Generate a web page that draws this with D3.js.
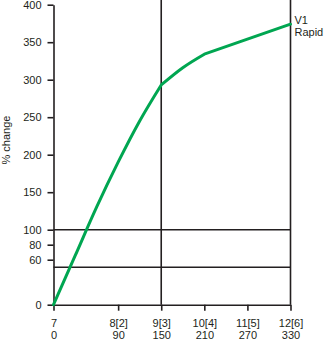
<!DOCTYPE html>
<html lang="en">
<head>
<meta charset="UTF-8">
<title>% change</title>
<style>
    body { margin: 0; background: #fff; }
    svg { display: block; font-family: "Liberation Sans", Arial, sans-serif; }
    .axis path, .axis line { stroke: #231f20; stroke-width: 1.6px; }
    .axis text { font-size: 11px; fill: #231f20; }
    .ref { stroke: #231f20; stroke-width: 1.6px; }
    .line { fill: none; stroke: #00a651; stroke-width: 3px; stroke-linecap: round; stroke-linejoin: round; }
</style>
</head>
<body>
<script src="https://d3js.org/d3.v7.min.js"></script>
<script>
    // data
    var times = [0, 30, 60, 90, 120, 150, 180, 210, 270, 330];
    var change = [0, 65, 130, 190, 245, 293, 316, 334, 354, 374];

    var xTicks = [0, 90, 150, 210, 270, 330];
    var xTickTop = ["7", "8[2]", "9[3]", "10[4]", "11[5]", "12[6]"];
    var yTicks = [0, 60, 80, 100, 150, 200, 250, 300, 350, 400];
    var hLines = [50, 100];
    var vLines = [150, 330];

    var width = 326, height = 340;

    var x = d3.scaleLinear().domain([0, 330]).range([53.5, 290.5]);
    var y = d3.scaleLinear().domain([0, 400]).range([304.7, 4.7]);

    var svg = d3.select("body").append("svg")
        .attr("width", width)
        .attr("height", height);

    // horizontal reference lines
    svg.selectAll(".hline")
        .data(hLines)
        .enter().append("line")
        .attr("class", "ref")
        .attr("x1", x(0))
        .attr("x2", x(330))
        .attr("y1", function (d) { return y(d); })
        .attr("y2", function (d) { return y(d); });

    // vertical reference lines
    svg.selectAll(".vline")
        .data(vLines)
        .enter().append("line")
        .attr("class", "ref")
        .attr("x1", function (d) { return x(d); })
        .attr("x2", function (d) { return x(d); })
        .attr("y1", 0)
        .attr("y2", y(0));

    // Y axis
    svg.append("g")
        .attr("class", "axis")
        .attr("transform", "translate(" + x(0) + ",0)")
        .call(d3.axisLeft(y)
            .tickValues(yTicks)
            .tickSize(6)
            .tickPadding(6)
            .tickSizeOuter(0));

    // X axis
    var gx = svg.append("g")
        .attr("class", "axis")
        .attr("transform", "translate(0," + y(0) + ")")
        .call(d3.axisBottom(x)
            .tickValues(xTicks)
            .tickSize(6)
            .tickSizeOuter(0)
            .tickFormat(""));

    gx.selectAll(".tick").each(function (d, i) {
        var t = d3.select(this).append("text")
            .attr("fill", "#231f20")
            .attr("text-anchor", "middle");
        t.append("tspan").attr("x", 0).attr("y", 22).text(xTickTop[i]);
        t.append("tspan").attr("x", 0).attr("y", 34).text(d);
    });

    // y label
    svg.append("text")
        .attr("transform", "translate(10,140) rotate(-90)")
        .attr("text-anchor", "middle")
        .style("font-size", "11px")
        .attr("fill", "#231f20")
        .text("% change");

    // series label
    var lab = svg.append("text")
        .style("font-size", "11px")
        .attr("fill", "#231f20");
    lab.append("tspan").attr("x", x(330) + 4).attr("y", 24).text("V1");
    lab.append("tspan").attr("x", x(330) + 4).attr("y", 36).text("Rapid");

    // the curve: smooth up to 150, bends there and at 210, straight after
    var pts = times.map(function (t, i) { return [x(t), y(change[i])]; });
    var smooth = d3.line().curve(d3.curveMonotoneX);
    var straight = d3.line();

    var d = smooth(pts.slice(0, 6)) +
        smooth(pts.slice(5, 8)).replace(/^M[^CL]*/, "") +
        straight(pts.slice(7)).replace(/^M[^L]*/, "");

    svg.append("path")
        .attr("class", "line")
        .attr("d", d);
</script>
</body>
</html>
